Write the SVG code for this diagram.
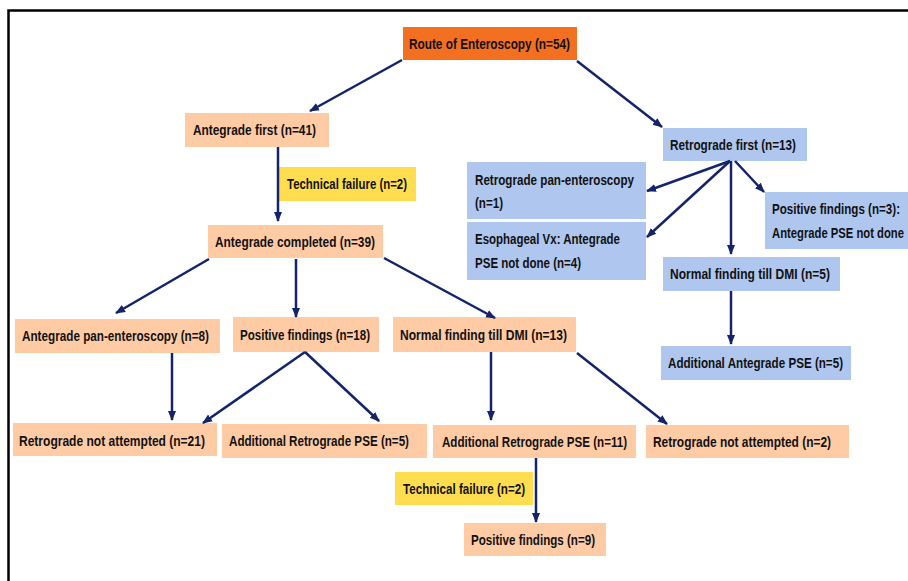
<svg xmlns="http://www.w3.org/2000/svg" width="908" height="581" viewBox="0 0 908 581">
<defs>
<marker id="ah" markerUnits="userSpaceOnUse" markerWidth="10" markerHeight="10" viewBox="0 0 10 10" refX="9" refY="5" orient="auto">
<path d="M0,1 L10,5 L0,9 z" fill="#14246A"/>
</marker>
<style>
.t{font-family:"Liberation Sans",Arial,sans-serif;font-size:15px;font-weight:bold;fill:#111}
.or{fill:#F37021}
.pe{fill:#FFCBA4}
.bl{fill:#AFC6EE}
.ye{fill:#FEDD4E}
.c line{stroke:#14246A;stroke-width:2.5;marker-end:url(#ah)}
</style>
</defs>
<rect width="908" height="581" fill="#fff"/>
<path d="M8.5,581 V10.5 H908" fill="none" stroke="#000" stroke-width="2.5"/>
<g id="n-root"><rect class="or" x="403" y="27" width="174" height="33"/><text class="t" x="409" y="48.5" textLength="161" lengthAdjust="spacingAndGlyphs">Route of Enteroscopy (n=54)</text></g>
<g id="n-antfirst"><rect class="pe" x="185" y="113" width="144" height="34"/><text class="t" x="193" y="135" textLength="123" lengthAdjust="spacingAndGlyphs">Antegrade first (n=41)</text></g>
<g id="n-retfirst"><rect class="bl" x="663" y="128" width="144" height="33"/><text class="t" x="670" y="150" textLength="126" lengthAdjust="spacingAndGlyphs">Retrograde first (n=13)</text></g>
<g id="n-tf1"><rect class="ye" x="279" y="167" width="137" height="34"/><text class="t" x="287" y="189" textLength="120" lengthAdjust="spacingAndGlyphs">Technical failure (n=2)</text></g>
<g id="n-antcomp"><rect class="pe" x="208" y="225" width="175" height="33"/><text class="t" x="215" y="247" textLength="160" lengthAdjust="spacingAndGlyphs">Antegrade completed (n=39)</text></g>
<g id="n-antpan"><rect class="pe" x="15" y="319" width="205" height="34"/><text class="t" x="22" y="341" textLength="187" lengthAdjust="spacingAndGlyphs">Antegrade pan-enteroscopy (n=8)</text></g>
<g id="n-pos18"><rect class="pe" x="233" y="317" width="146" height="35"/><text class="t" x="240" y="340" textLength="130" lengthAdjust="spacingAndGlyphs">Positive findings (n=18)</text></g>
<g id="n-norm13"><rect class="pe" x="393" y="317" width="183" height="35"/><text class="t" x="400" y="340" textLength="167" lengthAdjust="spacingAndGlyphs">Normal finding till DMI (n=13)</text></g>
<g id="n-rna21"><rect class="pe" x="13" y="423" width="204" height="33"/><text class="t" x="19" y="446" textLength="186" lengthAdjust="spacingAndGlyphs">Retrograde not attempted (n=21)</text></g>
<g id="n-arp5"><rect class="pe" x="222" y="424" width="205" height="34"/><text class="t" x="229" y="446" textLength="180" lengthAdjust="spacingAndGlyphs">Additional Retrograde PSE (n=5)</text></g>
<g id="n-arp11"><rect class="pe" x="433" y="425" width="203" height="33"/><text class="t" x="442" y="447" textLength="185" lengthAdjust="spacingAndGlyphs">Additional Retrograde PSE (n=11)</text></g>
<g id="n-rna2"><rect class="pe" x="646" y="425" width="203" height="33"/><text class="t" x="653" y="447" textLength="178" lengthAdjust="spacingAndGlyphs">Retrograde not attempted (n=2)</text></g>
<g id="n-tf2"><rect class="ye" x="395" y="472" width="138" height="33"/><text class="t" x="403" y="494" textLength="122" lengthAdjust="spacingAndGlyphs">Technical failure (n=2)</text></g>
<g id="n-pos9"><rect class="pe" x="464" y="523" width="142" height="33"/><text class="t" x="471" y="545" textLength="124" lengthAdjust="spacingAndGlyphs">Positive findings (n=9)</text></g>
<g id="n-retpan"><rect class="bl" x="467" y="162" width="179" height="57"/><text class="t" x="475" y="185" textLength="159" lengthAdjust="spacingAndGlyphs">Retrograde pan-enteroscopy</text><text class="t" x="475" y="208" textLength="28" lengthAdjust="spacingAndGlyphs">(n=1)</text></g>
<g id="n-eso"><rect class="bl" x="467" y="222" width="179" height="58"/><text class="t" x="475" y="244" textLength="145" lengthAdjust="spacingAndGlyphs">Esophageal Vx: Antegrade</text><text class="t" x="475" y="268" textLength="106" lengthAdjust="spacingAndGlyphs">PSE not done (n=4)</text></g>
<g id="n-pos3"><rect class="bl" x="765" y="192" width="143" height="57"/><text class="t" x="772" y="214" textLength="128" lengthAdjust="spacingAndGlyphs">Positive findings (n=3):</text><text class="t" x="772" y="238" textLength="132" lengthAdjust="spacingAndGlyphs">Antegrade PSE not done</text></g>
<g id="n-norm5"><rect class="bl" x="663" y="257" width="177" height="34"/><text class="t" x="670" y="279" textLength="160" lengthAdjust="spacingAndGlyphs">Normal finding till DMI (n=5)</text></g>
<g id="n-aap5"><rect class="bl" x="661" y="346" width="190" height="34"/><text class="t" x="668" y="368" textLength="175" lengthAdjust="spacingAndGlyphs">Additional Antegrade PSE (n=5)</text></g>
<g id="connectors" class="c">
<line x1="402" y1="60" x2="310" y2="111"/>
<line x1="577" y1="61" x2="662" y2="127"/>
<line x1="278" y1="147" x2="278" y2="221"/>
<line x1="209" y1="259" x2="116" y2="313"/>
<line x1="296" y1="259" x2="296" y2="317"/>
<line x1="384" y1="258" x2="495" y2="318"/>
<line x1="172" y1="353" x2="172" y2="420"/>
<line x1="305" y1="352" x2="203" y2="423"/>
<line x1="305" y1="352" x2="379" y2="421"/>
<line x1="491" y1="352" x2="491" y2="420"/>
<line x1="577" y1="353" x2="667" y2="424"/>
<line x1="536" y1="458" x2="536" y2="522"/>
<line x1="730" y1="161" x2="647" y2="191"/>
<line x1="730" y1="161" x2="647" y2="237"/>
<line x1="731" y1="161" x2="731" y2="254"/>
<line x1="735" y1="161" x2="764" y2="192"/>
<line x1="731" y1="291" x2="731" y2="344"/>
</g>
</svg>
